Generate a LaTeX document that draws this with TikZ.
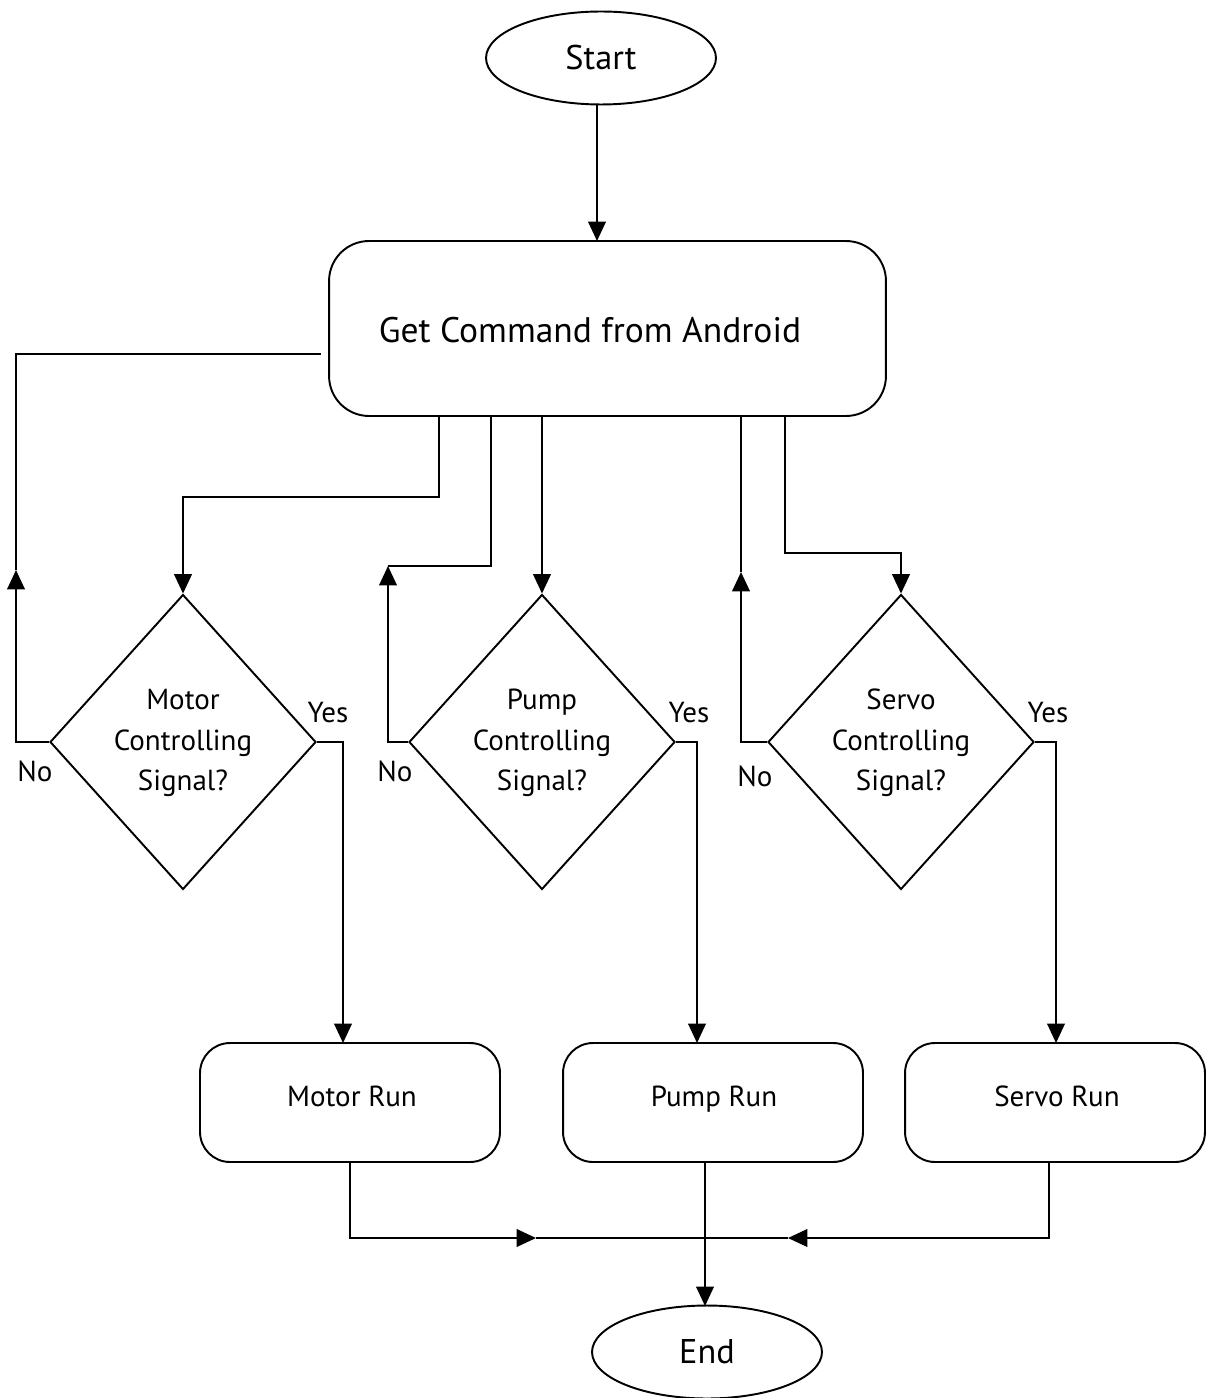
\documentclass[tikz,border=0pt]{standalone}
\usepackage{fontspec}
\setmainfont{PT Sans}
\usetikzlibrary{shapes.geometric,arrows.meta,calc}
\begin{document}
\begin{tikzpicture}[x=0.02cm,y=-0.02cm,
  line width=1.1pt,
  arr/.style={-{Triangle[length=11pt,width=10pt]}},
  term/.style={draw,ellipse,minimum width=4.6cm,minimum height=1.86cm,inner sep=0pt,font=\fontsize{19.5}{22}\selectfont},
  cmdbox/.style={draw,rounded corners=0.8cm,minimum width=11.14cm,minimum height=3.5cm},
  runbox/.style={draw,rounded corners=0.6cm,minimum width=6cm,minimum height=2.38cm},
  runtext/.style={font=\fontsize{16.5}{20}\selectfont,text height=1.6ex,text depth=0.3ex},
  decision/.style={draw,diamond,minimum width=5.32cm,minimum height=5.9cm,inner sep=0pt},
  dtext/.style={align=center,font=\fontsize{16.5}{23}\selectfont},
  lbl/.style={font=\fontsize{16.5}{20}\selectfont,inner sep=0pt}
]
\useasboundingbox (0,0) rectangle (1206,1398);
\node[term] (start) at (601,58) {Start};
\node[cmdbox] (cmd) at (607.5,328.5) {};
\node[font=\fontsize{20.2}{24}\selectfont] (cmdtext) at (590,330) {Get Command from Android};
\node[decision] (d1) at (183,742) {};
\node[decision] (d2) at (542,742) {};
\node[decision] (d3) at (901,742) {};
\node[dtext] (t1) at (183,743) {Motor\\Controlling\\Signal?};
\node[dtext] (t2) at (542,743) {Pump\\Controlling\\Signal?};
\node[dtext] (t3) at (901,743) {Servo\\Controlling\\Signal?};
\node[runbox] (r1) at (350,1102.5) {};
\node[runbox] (r2) at (713,1102.5) {};
\node[runbox] (r3) at (1055,1102.5) {};
\node[runtext] (r1t) at (352,1101) {Motor Run};
\node[runtext] (r2t) at (714,1101) {Pump Run};
\node[runtext] (r3t) at (1057,1101) {Servo Run};
\node[term] (end) at (707,1352) {End};
\node[lbl] (y1) at (328,713) {Yes};
\node[lbl] (y2) at (689,713) {Yes};
\node[lbl] (y3) at (1048,713) {Yes};
\node[lbl] (n1) at (35,771) {No};
\node[lbl] (n2) at (395,771) {No};
\node[lbl] (n3) at (755,776) {No};
% coordinates
\coordinate (ma) at (439,416);
\coordinate (sa) at (785,416);
\coordinate (pn) at (491,416);
\coordinate (sn) at (741,416);
\coordinate (mtip) at (16,570);
\coordinate (ptip) at (388,566);
\coordinate (stip) at (741,572);
\coordinate (cmdleft) at (321,354);
\coordinate (b1) at (536,1238);
\coordinate (b3) at (788,1238);
\coordinate (bm) at (705,1238);
% start
\draw[arr] (start.south -| 597,0) -- (597,241);
% to decisions
\draw[arr] (ma) |- (183,497) -- (d1.north);
\draw[arr] (d2.north |- cmd.south) -- (d2.north);
\draw[arr] (sa) |- (901,553) -- (d3.north);
% no branches
\draw[arr] (d1.west) -| (mtip);
\draw (mtip) |- (cmdleft);
\draw[arr] (d2.west) -| (ptip);
\draw (ptip) -| (pn);
\draw[arr] (d3.west) -| (stip);
\draw (stip) -- (sn);
% yes branches
\draw[arr] (d1.east) -| (343,1043);
\draw[arr] (d2.east) -| (697,1043);
\draw[arr] (d3.east) -| (1056,1043);
% merge
\draw[arr] (350,1162) |- (b1);
\draw (b1) -- (bm);
\draw[arr] (1049,1162) |- (b3);
\draw (b3) -- (bm);
\draw[arr] (705,1162) -- (705,1306);
\end{tikzpicture}
\end{document}
